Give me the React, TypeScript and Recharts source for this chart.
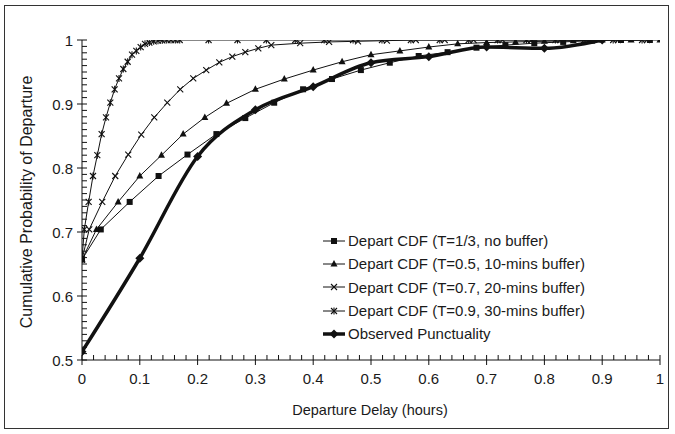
import React from "react";
import { LineChart, Line, XAxis, YAxis, Legend } from "recharts";

// ---------- data ----------
const sqX = [0, 0.0325, 0.0825, 0.1325, 0.1825, 0.2325, 0.2825, 0.3325, 0.3825, 0.4325, 0.4825, 0.5325, 0.5825, 0.6325, 0.6825, 0.7325, 0.7825, 0.8325, 0.8825, 0.9325, 0.9825];
const sqY = [0.657, 0.704, 0.747, 0.7875, 0.821, 0.853, 0.878, 0.902, 0.923, 0.939, 0.953, 0.9645, 0.975, 0.981, 0.988, 0.992, 0.995, 0.997, 0.999, 1, 1];

const triX = [0, 0.025, 0.0625, 0.1, 0.1375, 0.175, 0.2125, 0.25, 0.3, 0.35, 0.4, 0.45, 0.5, 0.55, 0.6, 0.65, 0.7, 0.75, 0.8, 0.85, 0.9, 0.95, 1];
const triY = [0.657, 0.704, 0.747, 0.7875, 0.82, 0.853, 0.879, 0.901, 0.923, 0.939, 0.953, 0.966, 0.977, 0.983, 0.989, 0.994, 0.996, 0.997, 0.998, 0.999, 1, 1, 1];

const crossX = [0, 0.0125, 0.035, 0.0575, 0.08, 0.1025, 0.125, 0.1475, 0.17, 0.1925, 0.215, 0.2375, 0.26, 0.2825, 0.305, 0.3275, 0.3775, 0.4275, 0.4775, 0.5275, 0.5775, 0.6275, 0.6775, 0.7275, 0.7775, 0.8275, 0.8775, 0.9275, 0.9775];
const crossY = [0.657, 0.704, 0.747, 0.7875, 0.821, 0.852, 0.879, 0.902, 0.923, 0.94, 0.953, 0.965, 0.974, 0.981, 0.987, 0.992, 0.995, 0.997, 0.998, 0.999, 1, 1, 1, 1, 1, 1, 1, 1, 1];

const starX = [0, 0.004, 0.0115, 0.019, 0.0265, 0.034, 0.0415, 0.049, 0.0565, 0.064, 0.0715, 0.079, 0.0865, 0.094, 0.1015, 0.109, 0.1165, 0.124, 0.1315, 0.139, 0.1465, 0.154, 0.1615, 0.169, 0.219, 0.269, 0.319, 0.369, 0.419, 0.469, 0.519, 0.569, 0.619, 0.669, 0.719, 0.769, 0.819, 0.869, 0.919, 0.969];
const starY = [0.657, 0.704, 0.747, 0.7875, 0.82, 0.853, 0.879, 0.902, 0.923, 0.94, 0.9547, 0.966, 0.977, 0.983, 0.989, 0.994, 0.996, 0.998, 0.999, 0.9995, 1, 1, 1, 1, 1, 1, 1, 1, 1, 1, 1, 1, 1, 1, 1, 1, 1, 1, 1, 1];

const obsX = [0, 0.1, 0.2, 0.3, 0.4, 0.5, 0.6, 0.7, 0.8, 0.9];
const obsY = [0.513, 0.659, 0.818, 0.891, 0.927, 0.9645, 0.974, 0.989, 0.987, 1.0];

const xTickLabels = ["0", "0.1", "0.2", "0.3", "0.4", "0.5", "0.6", "0.7", "0.8", "0.9", "1"];
const yTickLabels = ["0.5", "0.6", "0.7", "0.8", "0.9", "1"];

const seriesNames = [
  "Depart CDF (T=1/3, no buffer)",
  "Depart CDF (T=0.5, 10-mins buffer)",
  "Depart CDF (T=0.7, 20-mins buffer)",
  "Depart CDF (T=0.9, 30-mins buffer)",
  "Observed Punctuality",
];

const toRows = (xs: number[], ys: number[]) => xs.map((x, i) => ({ x, y: ys[i] }));

const xMajor = xTickLabels.map(Number);
const yMajor = yTickLabels.map(Number);
const xTicks = Array.from({ length: 51 }, (_, i) => (i * 2) / 100);
const yTicks = Array.from({ length: 51 }, (_, i) => (50 + i) / 100);

const FONT = "'Liberation Sans', Arial, sans-serif";
const INK = "#111";
const TXT = "#1a1a1a";

// ---------- markers ----------
type MK = "square" | "triangle" | "cross" | "star" | "diamond";
const Marker = ({ kind, cx, cy }: { kind: MK; cx: number; cy: number }) => {
  if (cx == null || cy == null) return null;
  switch (kind) {
    case "square":
      return <rect x={cx - 3} y={cy - 3} width={6} height={6} fill={INK} />;
    case "triangle":
      return <polygon points={`${cx},${cy - 4} ${cx + 3.5},${cy + 2.5} ${cx - 3.5},${cy + 2.5}`} fill={INK} />;
    case "cross":
      return (
        <g stroke={INK} strokeWidth={1.1}>
          <line x1={cx - 3} y1={cy - 3} x2={cx + 3} y2={cy + 3} />
          <line x1={cx - 3} y1={cy + 3} x2={cx + 3} y2={cy - 3} />
        </g>
      );
    case "star":
      return (
        <g stroke={INK} strokeWidth={1.1}>
          <line x1={cx - 3} y1={cy - 3} x2={cx + 3} y2={cy + 3} />
          <line x1={cx - 3} y1={cy + 3} x2={cx + 3} y2={cy - 3} />
          <line x1={cx} y1={cy - 3.5} x2={cx} y2={cy + 3.5} />
        </g>
      );
    case "diamond":
      return <polygon points={`${cx},${cy - 4.5} ${cx + 4.5},${cy} ${cx},${cy + 4.5} ${cx - 4.5},${cy}`} fill={INK} />;
  }
  return null;
};

const dotFor = (kind: MK) => (p: any) => <Marker key={`${kind}-${p.index}`} kind={kind} cx={p.cx} cy={p.cy} />;

// ---------- axis ticks ----------
const idxOf = (v: number, majors: number[]) => majors.findIndex((m) => Math.abs(m - v) < 1e-6);

const XTick = (props: any) => {
  const { x, y, payload } = props;
  const v = payload.value;
  const mi = idxOf(v, xMajor);
  const ay = y;
  return (
    <g>
      {mi >= 0 ? (
        <>
          <line x1={x} y1={ay - 5} x2={x} y2={ay + 5} stroke={INK} />
          <text x={x} y={ay + 24} textAnchor="middle" fontFamily={FONT} fontSize={15} fill={TXT}>
            {xTickLabels[mi]}
          </text>
        </>
      ) : (
        <line x1={x} y1={ay - 5} x2={x} y2={ay} stroke={INK} />
      )}
    </g>
  );
};

const YTick = (props: any) => {
  const { x, y, payload } = props;
  const v = payload.value;
  const mi = idxOf(v, yMajor);
  const ax = x;
  return (
    <g>
      {mi >= 0 ? (
        <>
          <line x1={ax - 5} y1={y} x2={ax + 5} y2={y} stroke={INK} />
          <text x={ax - 9} y={y + 5.5} textAnchor="end" fontFamily={FONT} fontSize={15} fill={TXT}>
            {yTickLabels[mi]}
          </text>
        </>
      ) : (
        <line x1={ax} y1={y} x2={ax + 5} y2={y} stroke={INK} />
      )}
    </g>
  );
};

// ---------- legend ----------
const legendKinds: MK[] = ["square", "triangle", "cross", "star", "diamond"];
const LegendContent = () => (
  <div style={{ fontFamily: FONT, fontSize: 15, color: TXT }}>
    {seriesNames.map((n, i) => (
      <div key={n} style={{ display: "flex", alignItems: "center", height: 23.3 }}>
        <svg width={24} height={12} style={{ overflow: "visible" }}>
          <line x1={0} y1={6} x2={22} y2={6} stroke={INK} strokeWidth={i === 4 ? 3.5 : 1} />
          <Marker kind={legendKinds[i]} cx={11} cy={6} />
        </svg>
        <span style={{ marginLeft: 1, whiteSpace: "nowrap" }}>{n}</span>
      </div>
    ))}
  </div>
);

export default function App() {
  return (
    <div style={{ position: "absolute", left: 0, top: 0, width: 675, height: 434, background: "#fff" }}>
      <div
        style={{
          position: "absolute",
          left: 4,
          top: 5,
          width: 663,
          height: 422,
          border: "1px solid #333",
        }}
      />
      <div style={{ position: "absolute", left: 0, top: 0 }}>
        <LineChart width={675} height={434} margin={{ top: 40, right: 15, bottom: 44, left: 22 }}>
          <XAxis
            dataKey="x"
            type="number"
            domain={[0, 1]}
            ticks={xTicks}
            interval={0}
            height={30}
            tickSize={0}
            tickMargin={0}
            tickLine={false}
            tick={<XTick />}
            axisLine={{ stroke: INK }}
            allowDataOverflow
          />
          <YAxis
            dataKey="y"
            type="number"
            domain={[0.5, 1]}
            ticks={yTicks}
            interval={0}
            width={60}
            tickSize={0}
            tickMargin={0}
            tickLine={false}
            tick={<YTick />}
            axisLine={{ stroke: INK }}
            allowDataOverflow
          />
          <Legend
            layout="vertical"
            align="center"
            verticalAlign="middle"
            content={<LegendContent />}
            wrapperStyle={{ position: "absolute", left: 323, top: 229, width: 320, height: 120 }}
          />
          <Line data={toRows(sqX, sqY)} dataKey="y" name={seriesNames[0]} stroke={INK} strokeWidth={1} dot={dotFor("square")} isAnimationActive={false} />
          <Line data={toRows(triX, triY)} dataKey="y" name={seriesNames[1]} stroke={INK} strokeWidth={1} dot={dotFor("triangle")} isAnimationActive={false} />
          <Line data={toRows(crossX, crossY)} dataKey="y" name={seriesNames[2]} stroke={INK} strokeWidth={1} dot={dotFor("cross")} isAnimationActive={false} />
          <Line data={toRows(starX, starY)} dataKey="y" name={seriesNames[3]} stroke={INK} strokeWidth={1} dot={dotFor("star")} isAnimationActive={false} />
          <Line data={toRows(obsX, obsY)} dataKey="y" type="monotone" name={seriesNames[4]} stroke={INK} strokeWidth={3.5} dot={dotFor("diamond")} isAnimationActive={false} />
        </LineChart>
      </div>
      <div
        style={{
          position: "absolute",
          left: 27,
          top: 202,
          transform: "translate(-50%, -50%) rotate(-90deg)",
          fontFamily: FONT,
          fontSize: 16,
          color: TXT,
          whiteSpace: "nowrap",
        }}
      >
        Cumulative Probability of Departure
      </div>
      <div
        style={{
          position: "absolute",
          left: 370,
          top: 410,
          transform: "translate(-50%, -50%)",
          fontFamily: FONT,
          fontSize: 14.5,
          color: TXT,
          whiteSpace: "nowrap",
        }}
      >
        Departure Delay (hours)
      </div>
    </div>
  );
}
